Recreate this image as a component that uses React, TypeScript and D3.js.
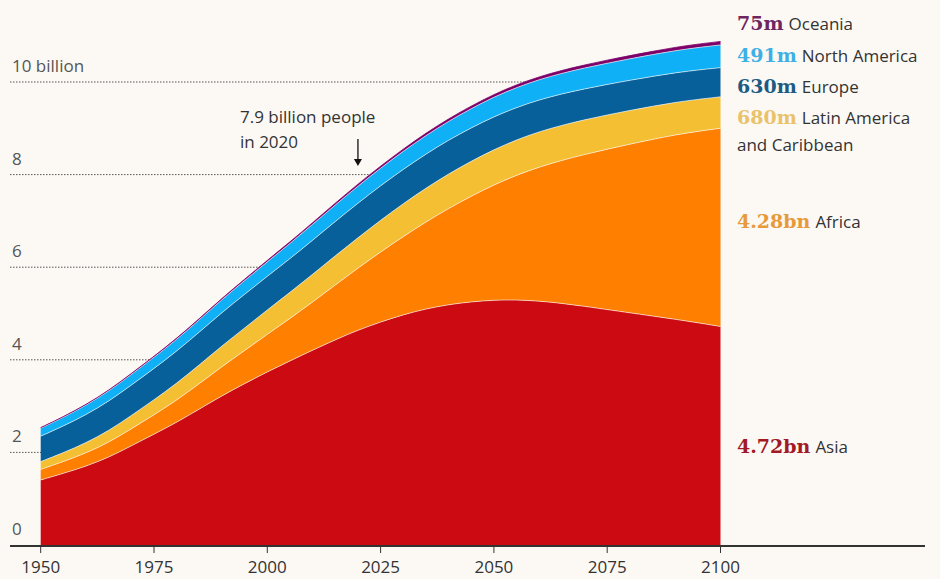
import React from "react";
import * as d3 from "d3";

const years = d3.range(1950, 2101, 5);
// Population in billions (UN WPP 2019 medium variant, read approx.)
const asia = [1.404, 1.546, 1.7, 1.891, 2.142, 2.393, 2.649, 2.934, 3.226, 3.486, 3.741, 3.975, 4.209, 4.433, 4.641, 4.817, 4.975, 5.101, 5.193, 5.254, 5.29, 5.295, 5.27, 5.22, 5.155, 5.085, 5.015, 4.945, 4.875, 4.8, 4.72];
const africa = [0.228, 0.254, 0.285, 0.322, 0.366, 0.416, 0.478, 0.55, 0.63, 0.713, 0.811, 0.916, 1.039, 1.182, 1.341, 1.512, 1.688, 1.877, 2.077, 2.28, 2.489, 2.694, 2.894, 3.089, 3.279, 3.464, 3.643, 3.816, 3.983, 4.135, 4.28];
const latam = [0.169, 0.192, 0.22, 0.253, 0.288, 0.325, 0.364, 0.405, 0.446, 0.488, 0.527, 0.563, 0.598, 0.632, 0.654, 0.686, 0.711, 0.731, 0.746, 0.756, 0.762, 0.764, 0.763, 0.758, 0.75, 0.74, 0.728, 0.715, 0.703, 0.691, 0.68];
const europe = [0.549, 0.577, 0.606, 0.635, 0.657, 0.677, 0.694, 0.708, 0.721, 0.727, 0.726, 0.729, 0.736, 0.741, 0.748, 0.745, 0.741, 0.736, 0.73, 0.721, 0.71, 0.699, 0.688, 0.678, 0.668, 0.659, 0.651, 0.645, 0.639, 0.634, 0.63];
const northAmerica = [0.173, 0.187, 0.204, 0.219, 0.231, 0.242, 0.254, 0.267, 0.28, 0.298, 0.313, 0.328, 0.343, 0.357, 0.369, 0.38, 0.391, 0.401, 0.409, 0.417, 0.425, 0.432, 0.439, 0.445, 0.451, 0.458, 0.465, 0.471, 0.478, 0.485, 0.491];
const oceania = [0.0127, 0.0142, 0.0159, 0.0177, 0.0197, 0.0216, 0.0229, 0.0248, 0.027, 0.029, 0.031, 0.0335, 0.0368, 0.0395, 0.0427, 0.0455, 0.048, 0.051, 0.053, 0.055, 0.057, 0.059, 0.061, 0.063, 0.065, 0.067, 0.069, 0.07, 0.072, 0.074, 0.075];

const regionKeys = ["asia", "africa", "latam", "europe", "northAmerica", "oceania"];
const regionColors = ["#cc0a11", "#ff7f00", "#f4bf33", "#07609a", "#0fb0f5", "#7d0068"];
const valueLabels = ["4.72bn", "4.28bn", "680m", "630m", "491m", "75m"];
const nameLabels = [["Asia"], ["Africa"], ["Latin America", "and Caribbean"], ["Europe"], ["North America"], ["Oceania"]];
const labelColors = ["#a31a26", "#e89a3a", "#e9c26a", "#1d5b82", "#3fb0e6", "#6e2560"];
const labelBaselines = [453, 228, 124, 93, 62, 30];

const yTicks = [0, 2, 4, 6, 8, 10];
const xTicks = [1950, 1975, 2000, 2025, 2050, 2075, 2100];

const W = 940;
const H = 579;

export default function App() {
  const x = d3.scaleLinear().domain([1950, 2100]).range([40.7, 720.5]);
  const y = d3.scaleLinear().domain([0, 10]).range([545, 82]);

  const series = [asia, africa, latam, europe, northAmerica, oceania];
  const table = years.map((yr, i) => {
    const row: any = { year: yr };
    regionKeys.forEach((k, j) => (row[k] = series[j][i]));
    return row;
  });
  const stacked = d3.stack().keys(regionKeys)(table);

  const area = d3
    .area<any>()
    .x((d) => x(d.data.year))
    .y0((d) => y(d[0]))
    .y1((d) => y(d[1]))
    .curve(d3.curveBasis);
  const topLine = d3
    .line<any>()
    .x((d) => x(d.data.year))
    .y((d) => y(d[1]))
    .curve(d3.curveBasis);

  const sans = "'Open Sans', 'Noto Sans', sans-serif";
  const serif = "'DejaVu Serif', serif";
  const arrowX = x(2020);

  return (
    <svg
      width={W}
      height={H}
      style={{ position: "fixed", left: 0, top: 0, display: "block" }}
    >
      <rect x={0} y={0} width={W} height={H} fill="#fcf9f5" />
      {yTicks.map((t) => (
        <g key={t}>
          {t > 0 && (
            <line
              x1={10}
              x2={x(2100)}
              y1={y(t)}
              y2={y(t)}
              stroke="#555"
              strokeWidth={1}
              strokeDasharray="1.5,1.5"
            />
          )}
          <text
            x={12}
            y={y(t) - 10}
            fontFamily={sans}
            fontSize={17}
            fill="#555"
          >
            {t === 10 ? "10 billion" : String(t)}
          </text>
        </g>
      ))}

      {stacked.map((s, i) => (
        <path key={s.key} d={area(s as any) || ""} fill={regionColors[i]} />
      ))}
      {stacked.slice(0, 5).map((s) => (
        <path
          key={"sep" + s.key}
          d={topLine(s as any) || ""}
          fill="none"
          stroke="#ffffff"
          strokeOpacity={0.6}
          strokeWidth={1}
        />
      ))}
      <path
        d={topLine(stacked[5] as any) || ""}
        fill="none"
        stroke="#7d0068"
        strokeWidth={0.8}
      />

      {/* x axis */}
      <line x1={10} x2={925} y1={546} y2={546} stroke="#333" strokeWidth={2} />
      {xTicks.map((t) => (
        <g key={t}>
          <line x1={x(t)} x2={x(t)} y1={546} y2={553} stroke="#333" strokeWidth={1} />
          <text
            x={x(t)}
            y={573}
            textAnchor="middle"
            fontFamily={sans}
            fontSize={17}
            fill="#333"
          >
            {t}
          </text>
        </g>
      ))}

      {/* annotation */}
      <text x={240} y={123} fontFamily={sans} fontSize={17} fill="#333">
        7.9 billion people
      </text>
      <text x={240} y={148} fontFamily={sans} fontSize={17} fill="#333">
        in 2020
      </text>
      <line x1={arrowX} x2={arrowX} y1={139} y2={160} stroke="#111" strokeWidth={1.3} />
      <path
        d={`M${arrowX - 4},${159} L${arrowX + 4},${159} L${arrowX},${166} Z`}
        fill="#111"
      />

      {/* right labels */}
      {regionKeys.map((k, i) => (
        <g key={"lab" + k}>
          <text x={737} y={labelBaselines[i]} fontSize={19}>
            <tspan fontFamily={serif} fontWeight="bold" fill={labelColors[i]}>
              {valueLabels[i]}
            </tspan>
            <tspan fontFamily={sans} fontSize={17} fill="#333" dx={5}>
              {nameLabels[i][0]}
            </tspan>
          </text>
          {nameLabels[i].slice(1).map((line, j) => (
            <text
              key={j}
              x={737}
              y={labelBaselines[i] + 27 * (j + 1)}
              fontFamily={sans}
              fontSize={17}
              fill="#333"
            >
              {line}
            </text>
          ))}
        </g>
      ))}
    </svg>
  );
}
